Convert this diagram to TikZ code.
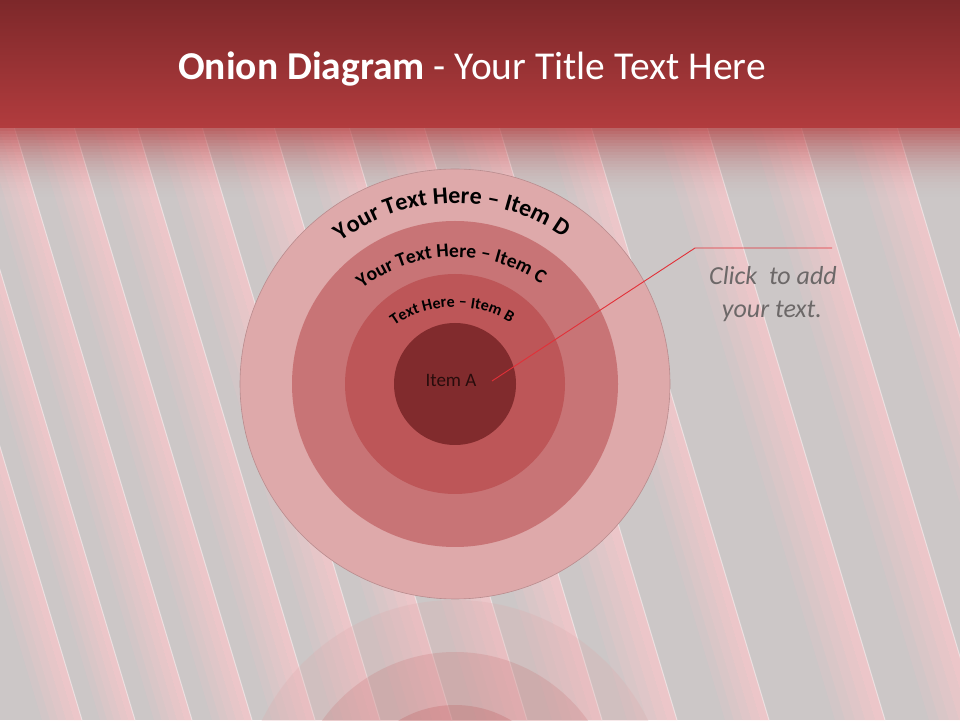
\documentclass[tikz,border=0pt]{standalone}
\usepackage{fontspec}
\setmainfont{Carlito}
\usetikzlibrary{decorations.text}
\definecolor{bggrey}{RGB}{204,199,199}
\definecolor{stripepink}{RGB}{250,198,202}
\definecolor{headtop}{RGB}{125,40,42}
\definecolor{headbot}{RGB}{178,60,62}
\definecolor{ringD}{RGB}{222,169,170}
\definecolor{ringDedge}{RGB}{185,140,142}
\definecolor{ringC}{RGB}{200,116,118}
\definecolor{ringB}{RGB}{189,86,88}
\definecolor{ringA}{RGB}{129,43,45}
\definecolor{calloutred}{RGB}{226,48,56}
\definecolor{clicktext}{RGB}{108,104,104}
\definecolor{itemAtext}{RGB}{40,12,12}
\newcommand\fntTitle{\fontsize{39.5}{47}\selectfont}
\newcommand\fntD{\fontsize{24}{29}\selectfont\bfseries}
\newcommand\fntC{\fontsize{19.5}{23}\selectfont\bfseries}
\newcommand\fntB{\fontsize{16}{19}\selectfont\bfseries}
\newcommand\fntA{\fontsize{19}{23}\selectfont}
\newcommand\fntClick{\fontsize{26}{31}\selectfont\itshape}
\begin{document}
\begin{tikzpicture}[x=1pt,y=1pt,
  titletext/.style={text=white, font=\fntTitle, inner sep=0pt},
  clicklabel/.style={text=clicktext, font=\fntClick, inner sep=0pt, anchor=base},
  calloutline/.style={draw=calloutred, line width=0.9pt},
  arctext/.style={decorate, decoration={text along path, text align=center}}]
\useasboundingbox (0,0) rectangle (960,720);
\fill[bggrey] (0,0) rectangle (960,720);
% diagonal stripes (x at image row 480, slope 0.3)
\foreach \a/\b in {-30/10, 28/63, 82/120, 140/180, 200/243, 262/308, 330/380, 405/455, 480/530, 555/605, 653/697, 763/813, 857/907, 953/1003} {
  \foreach \i in {0,...,4} {
    \pgfmathsetmacro\xa{\a+(\b-\a)*\i/5}
    \pgfmathsetmacro\xb{\a+(\b-\a)*(\i+1)/5}
    \pgfmathsetmacro\op{0.15+0.14*\i}
    \fill[stripepink, opacity=\op] (\xa-144,720) -- (\xb-144,720) -- (\xb+72,0) -- (\xa+72,0) -- cycle;
  }
  \draw[white, opacity=0.45, line width=1pt] (\b-144,720) -- (\b+72,0);
}
% header
\shade[top color=headtop, bottom color=headbot] (0,592) rectangle (960,720);
\foreach \i in {0,...,23} {
  \pgfmathsetmacro\ya{592-3*\i}
  \pgfmathsetmacro\yb{589-3*\i}
  \pgfmathsetmacro\op{0.7*(1-\i/24)^2}
  \fill[headbot, opacity=\op] (0,\yb) rectangle (960,\ya);
}
\node[titletext, anchor=base] (title) at (472,640) {\textbf{Onion Diagram} - Your Title Text Here};
% reflection
\begin{scope}[opacity=0.25]
  \fill[ringD] (455,-95) circle[radius=215];
  \fill[ringC] (455,-95) circle[radius=163];
  \fill[ringB] (455,-95) circle[radius=110];
  \fill[ringA] (455,-95) circle[radius=61];
\end{scope}
% onion rings
\filldraw[fill=ringD, draw=ringDedge, line width=0.6pt] (455,336) circle[radius=215];
\fill[ringC] (455,336) circle[radius=163];
\fill[ringB] (455,336) circle[radius=110];
\fill[ringA] (455,336) circle[radius=61];
% curved labels
\begin{scope}[shift={(455,336)}]
  \path[arctext, decoration={text={|\fntD|Your Text Here – Item D}}]
    (128.5:185 and 181) arc[start angle=128.5, end angle=53.7, x radius=185, y radius=181];
  \path[arctext, decoration={text={|\fntC|Your Text Here – Item C}}]
    (131:140 and 127) arc[start angle=131, end angle=52.6, x radius=140, y radius=127];
  \path[arctext, decoration={text={|\fntB|Text Here – Item B}}]
    (133.3:92 and 77) arc[start angle=133.3, end angle=50.6, x radius=92, y radius=77];
\end{scope}
\node[anchor=base, font=\fntA, text=itemAtext, inner sep=0pt] (itemA) at (451,333) {Item A};
% callout
\coordinate (ptA) at (492,339);
\coordinate (elbow) at (695,472);
\coordinate (callend) at (832,472);
\draw[calloutline] (ptA) -- (elbow) -- (callend);
\node[clicklabel] (click1) at (773,435) {Click\ \ to add};
\node[clicklabel] (click2) at (772,402) {your text.};
\end{tikzpicture}
\end{document}
